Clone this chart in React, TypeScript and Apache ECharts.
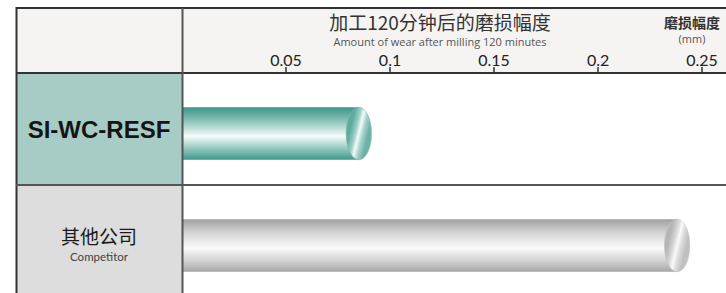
import React, { useEffect, useRef } from "react";
import * as echarts from "echarts";

const categories = ["SI-WC-RESF", "其他公司"];
const subLabels = ["", "Competitor"];
const wearValues = [0.085, 0.238];
const tickValues = [0.05, 0.1, 0.15, 0.2, 0.25];

const titleText = "加工120分钟后的磨损幅度";
const subtitleText = "Amount of wear after milling 120 minutes";
const unitText = "磨损幅度";
const unitSub = "(mm)";

const bodyStops = [
  [
    { offset: 0, color: "#3a9686" },
    { offset: 0.25, color: "#86c0b5" },
    { offset: 0.55, color: "#f6fbfa" },
    { offset: 0.8, color: "#8ec5bb" },
    { offset: 1, color: "#3c9888" },
  ],
  [
    { offset: 0, color: "#a0a0a0" },
    { offset: 0.25, color: "#d2d2d2" },
    { offset: 0.55, color: "#fbfbfb" },
    { offset: 0.8, color: "#d0d0d0" },
    { offset: 1, color: "#a6a6a6" },
  ],
];
const capStops = [
  [
    { offset: 0, color: "#5fac9e" },
    { offset: 0.3, color: "#9fcfc6" },
    { offset: 0.5, color: "#f4faf9" },
    { offset: 0.7, color: "#a9d4cc" },
    { offset: 1, color: "#6cb3a6" },
  ],
  [
    { offset: 0, color: "#b6b6b6" },
    { offset: 0.3, color: "#d8d8d8" },
    { offset: 0.5, color: "#fafafa" },
    { offset: 0.7, color: "#dcdcdc" },
    { offset: 1, color: "#c0c0c0" },
  ],
];

export default function App() {
  const ref = useRef<HTMLDivElement>(null);
  useEffect(() => {
    document.body.style.margin = "0";
    const chart = echarts.init(ref.current!, null, { renderer: "svg" });
    const data = wearValues.map((v, i) => [v, i]);
    chart.setOption({
      animation: false,
      backgroundColor: "#ffffff",
      title: [
        {
          text: titleText,
          subtext: subtitleText,
          left: 440,
          top: 11,
          textAlign: "center",
          padding: 0,
          itemGap: 4,
          textStyle: { fontFamily: "Noto Sans CJK SC", fontSize: 19, fontWeight: "normal", color: "#333", lineHeight: 21 },
          subtextStyle: { fontFamily: "Open Sans", fontSize: 11, color: "#555", lineHeight: 11 },
        },
        {
          text: unitText,
          subtext: unitSub,
          left: 692,
          top: 14,
          textAlign: "center",
          padding: 0,
          itemGap: 2,
          textStyle: { fontFamily: "Noto Sans CJK SC", fontSize: 14, fontWeight: "bold", color: "#333", lineHeight: 16 },
          subtextStyle: { fontFamily: "Open Sans", fontSize: 11, color: "#555", lineHeight: 12 },
        },
      ],
      grid: { left: 182, top: 73, width: 544, height: 224, containLabel: false, outerBoundsMode: "none" },
      xAxis: {
        type: "value",
        position: "top",
        min: 0,
        max: 0.2615,
        axisLine: { show: true, lineStyle: { color: "#333", width: 2 } },
        axisTick: { show: true, inside: false, length: 6, customValues: tickValues, lineStyle: { color: "#333", width: 1.5 } },
        axisLabel: {
          customValues: tickValues,
          margin: 6,
          fontFamily: "Lato",
          fontSize: 16,
          lineHeight: 16,
          color: "#222",
          formatter: (v: number) => String(v),
        },
        splitLine: { show: false },
      },
      yAxis: {
        type: "category",
        inverse: true,
        data: categories,
        axisLine: { show: false },
        axisTick: { show: false },
        splitLine: { show: false },
        axisLabel: {
          margin: 83,
          align: "center",
          formatter: (v: string) => {
            const i = categories.indexOf(v);
            return subLabels[i] ? `{b|${v}}\n{c|${subLabels[i]}}` : `{a|${v}}`;
          },
          rich: {
            a: { fontFamily: "Liberation Sans", fontSize: 24, fontWeight: "bold", color: "#151515" },
            b: { fontFamily: "Noto Sans CJK SC", fontSize: 19, color: "#1a1a1a", lineHeight: 30 },
            c: { fontFamily: "Lato", fontSize: 11.5, color: "#444", lineHeight: 11 },
          },
        },
      },
      graphic: [
        { type: "rect", z: -10, shape: { x: 16, y: 8, width: 710, height: 65 }, style: { fill: "#f5f4f2" } },
        { type: "rect", z: -10, shape: { x: 16, y: 73, width: 166, height: 112 }, style: { fill: "#a6ccc5" } },
        { type: "rect", z: -10, shape: { x: 16, y: 185, width: 166, height: 120 }, style: { fill: "#dcdddc" } },
        { type: "line", z: 10, shape: { x1: 16, y1: 8, x2: 726, y2: 8 }, style: { stroke: "#333", lineWidth: 2 } },
        { type: "line", z: 10, shape: { x1: 16.5, y1: 7, x2: 16.5, y2: 300 }, style: { stroke: "#333", lineWidth: 2 } },
        { type: "line", z: 10, shape: { x1: 16, y1: 73, x2: 183, y2: 73 }, style: { stroke: "#333", lineWidth: 2 } },
        { type: "line", z: 10, shape: { x1: 182.5, y1: 8, x2: 182.5, y2: 300 }, style: { stroke: "#555", lineWidth: 2 } },
        { type: "line", z: 10, shape: { x1: 16, y1: 185, x2: 726, y2: 185 }, style: { stroke: "#555", lineWidth: 2 } },
      ],
      series: [
        {
          type: "custom",
          encode: { x: 0, y: 1 },
          data,
          renderItem: (params: any, api: any) => {
            const v = api.value(0);
            const cat = api.value(1);
            const start = api.coord([0, cat]);
            const end = api.coord([v, cat]);
            const band = api.size([0, 1])[1];
            const h = band * 0.47;
            const cy = start[1] + band * 0.04;
            const rx = h * 0.24;
            const idx = params.dataIndex;
            return {
              type: "group",
              children: [
                {
                  type: "rect",
                  shape: { x: start[0] + 1, y: cy - h / 2, width: end[0] - start[0] - 1, height: h },
                  style: { fill: new echarts.graphic.LinearGradient(0, 0, 0, 1, bodyStops[idx]) },
                },
                {
                  type: "ellipse",
                  shape: { cx: end[0], cy, rx, ry: h / 2 },
                  style: {
                    fill: new echarts.graphic.LinearGradient(0.2, 0.35, 0.8, 0.65, capStops[idx]),
                    stroke: idx === 0 ? "#7ab9ad" : "#c4c4c4",
                    lineWidth: 0.6,
                  },
                },
              ],
            };
          },
        },
      ],
    });
    return () => chart.dispose();
  }, []);
  return <div ref={ref} style={{ width: 726, height: 293 }} />;
}
